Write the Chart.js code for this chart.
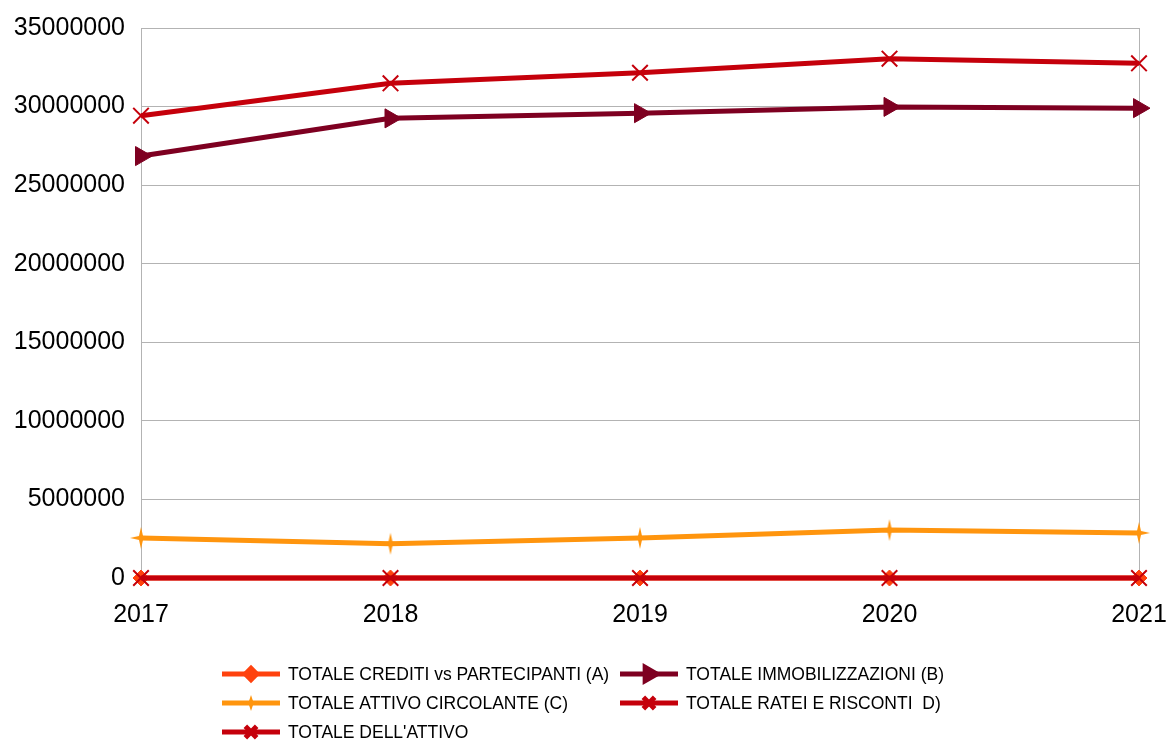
<!DOCTYPE html>
<html>
<head>
<meta charset="utf-8">
<script src="https://cdn.jsdelivr.net/npm/chart.js@4"></script>
<style>
  html, body { margin: 0; padding: 0; background: #fff; }
  #wrap { width: 1166px; height: 742px; position: relative; }
</style>
</head>
<body>
<div id="wrap"><canvas id="myChart" width="1166" height="742"></canvas></div>
<script>
// years on the x axis
var years = ['2017', '2018', '2019', '2020', '2021'];

// series values
var crediti = [0, 0, 0, 0, 0];
var immobilizzazioni = [26850000, 29250000, 29580000, 29980000, 29900000];
var circolante = [2550000, 2180000, 2550000, 3050000, 2870000];
var ratei = [0, 0, 0, 0, 0];
var totale = [29420000, 31480000, 32150000, 33050000, 32750000];

var labels = [
  'TOTALE CREDITI vs PARTECIPANTI (A)',
  'TOTALE IMMOBILIZZAZIONI (B)',
  'TOTALE ATTIVO CIRCOLANTE (C)',
  'TOTALE RATEI E RISCONTI  D)',
  "TOTALE DELL'ATTIVO"
];

// thin four point star for the "attivo circolante" series
function makeStar(r, color) {
  var c = document.createElement('canvas');
  c.width = r * 2 + 2;
  c.height = r * 2 + 2;
  var g = c.getContext('2d');
  var cx = r + 1, cy = r + 1, w = 2;
  g.fillStyle = color;
  g.beginPath();
  g.moveTo(cx, cy - r);
  g.lineTo(cx + w, cy - w);
  g.lineTo(cx + r, cy);
  g.lineTo(cx + w, cy + w);
  g.lineTo(cx, cy + r);
  g.lineTo(cx - w, cy + w);
  g.lineTo(cx - r, cy);
  g.lineTo(cx - w, cy - w);
  g.closePath();
  g.fill();
  return c;
}
var star = makeStar(11, '#ff950e');
var smallStar = makeStar(8, '#ff950e');

// legend in two columns like the original
var legendPlugin = {
  id: 'twoColLegend',
  afterDraw: function(chart) {
    var ctx = chart.ctx;
    var cols = [222, 620];
    var rows = [674, 703, 732];
    ctx.save();
    ctx.font = '17.5px "Liberation Sans"';
    ctx.textBaseline = 'middle';
    chart.data.datasets.forEach(function(ds, i) {
      var x = cols[i % 2];
      var y = rows[Math.floor(i / 2)];
      ctx.strokeStyle = ds.borderColor;
      ctx.lineWidth = 5;
      ctx.beginPath();
      ctx.moveTo(x, y);
      ctx.lineTo(x + 58, y);
      ctx.stroke();
      if (ds.pointStyle instanceof HTMLCanvasElement) {
        ctx.drawImage(smallStar, x + 29 - smallStar.width / 2, y - smallStar.height / 2);
      } else {
        ctx.fillStyle = ds.pointBackgroundColor;
        ctx.strokeStyle = ds.pointBorderColor;
        Chart.helpers.drawPoint(ctx, {
          pointStyle: ds.pointStyle,
          rotation: ds.pointRotation || 0,
          radius: ds.pointStyle === 'crossRot' ? 8 : ds.pointRadius * 0.7,
          borderWidth: ds.pointBorderWidth
        }, x + 29, y);
      }
      ctx.fillStyle = '#000';
      ctx.fillText(ds.label, x + 66, y + 1);
    });
    ctx.restore();
  }
};

var ctx = document.getElementById('myChart').getContext('2d');
var chart = new Chart(ctx, {
  type: 'line',
  data: {
    labels: years,
    datasets: [{
      label: labels[0],
      data: crediti,
      borderColor: '#ff420e',
      pointBackgroundColor: '#ff420e',
      pointBorderColor: '#ff420e',
      pointStyle: 'rectRot',
      pointRadius: 8,
      pointBorderWidth: 1,
      order: 3
    }, {
      label: labels[1],
      data: immobilizzazioni,
      borderColor: '#7e0021',
      pointBackgroundColor: '#7e0021',
      pointBorderColor: '#7e0021',
      pointStyle: 'triangle',
      pointRotation: 90,
      pointRadius: 11,
      pointBorderWidth: 1,
      order: 2
    }, {
      label: labels[2],
      data: circolante,
      borderColor: '#ff950e',
      pointStyle: star,
      order: 2
    }, {
      label: labels[3],
      data: ratei,
      borderColor: '#c5000b',
      pointBackgroundColor: '#c5000b',
      pointBorderColor: '#c5000b',
      pointStyle: 'crossRot',
      pointRadius: 11,
      pointBorderWidth: 2,
      order: 0
    }, {
      label: labels[4],
      data: totale,
      borderColor: '#c5000b',
      pointBackgroundColor: '#c5000b',
      pointBorderColor: '#c5000b',
      pointStyle: 'crossRot',
      pointRadius: 11,
      pointBorderWidth: 2,
      order: 1
    }]
  },
  options: {
    responsive: false,
    animation: false,
    layout: { padding: { top: 28, right: 27, left: 0, bottom: 0 } },
    datasets: { line: { clip: 20 } },
    elements: {
      line: { borderWidth: 5, tension: 0, fill: false }
    },
    plugins: {
      legend: { display: false },
      tooltip: { enabled: false }
    },
    scales: {
      x: {
        grid: {
          drawTicks: false,
          color: function(c) {
            return (c.index === 0 || c.index === years.length - 1) ? '#b3b3b3' : 'rgba(0,0,0,0)';
          }
        },
        border: { display: false },
        ticks: {
          padding: 22,
          color: '#000',
          font: { family: '"Liberation Sans"', size: 25 }
        },
        afterFit: function(s) {
          s.height = 164;
          s.paddingLeft = 0;
          s.paddingRight = 0;
        }
      },
      y: {
        min: 0,
        max: 35000000,
        grid: { drawTicks: false, color: '#b3b3b3' },
        border: { display: false },
        ticks: {
          stepSize: 5000000,
          padding: 16,
          color: '#000',
          font: { family: '"Liberation Sans"', size: 25 },
          callback: function(v) { return String(v); }
        },
        afterFit: function(s) {
          s.width = 141;
          s.paddingTop = 0;
          s.paddingBottom = 0;
        }
      }
    }
  },
  plugins: [legendPlugin]
});
</script>
</body>
</html>
